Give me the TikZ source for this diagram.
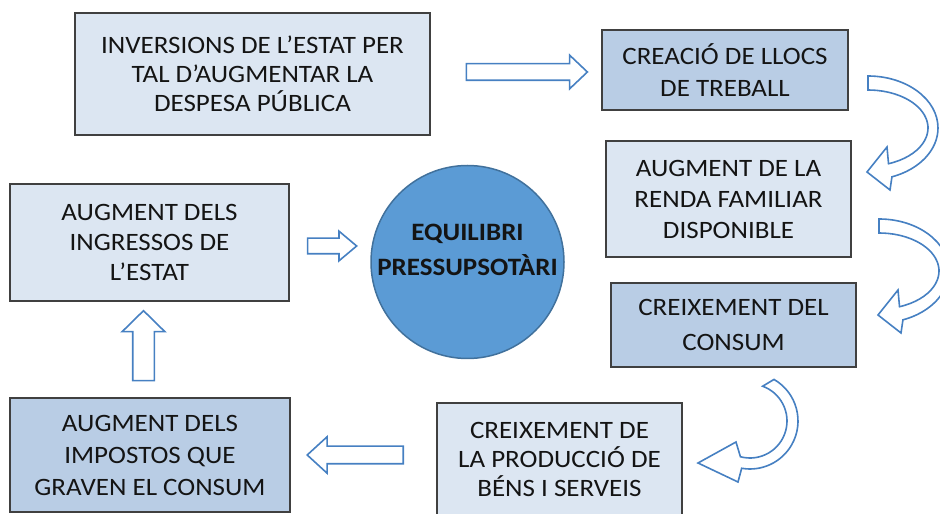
\documentclass[tikz,border=0pt]{standalone}
\usepackage{fontspec}
\setmainfont{Carlito}[FakeStretch=1.08]
\usetikzlibrary{shapes.arrows,positioning}

\definecolor{boxlight}{RGB}{220,230,242}
\definecolor{boxmid}{RGB}{185,205,229}
\definecolor{ballfill}{RGB}{91,155,213}
\definecolor{balledge}{RGB}{65,113,156}
\definecolor{arrowedge}{RGB}{70,128,194}

\newcommand{\boxfont}[1]{\fontsize{25}{#1}\selectfont}

\begin{document}
\begin{tikzpicture}[x=1pt,y=1pt,
    every node/.style={font=\boxfont{30}, align=center, text=black!92}]
       \tikzstyle{box}=[draw=black!75, line width=1.2pt, inner sep=0pt]
       \tikzstyle{lightbox}=[box, fill=boxlight]
       \tikzstyle{midbox}=[box, fill=boxmid]
       \tikzstyle{ball}=[circle, draw=balledge, line width=1.5pt, fill=ballfill, minimum size=193pt]
       \tikzstyle{blockarrow}=[draw=arrowedge, line width=1.6pt, fill=white, line join=miter]
       \tikzstyle{straight}=[blockarrow, single arrow, inner xsep=0pt]

       \useasboundingbox (0,0) rectangle (940,514);
       \clip (0,0) rectangle (940,514);

       \node[lightbox, minimum width=355, minimum height=122, font=\boxfont{29}] (inversions) at (252.5,440)
            {INVERSIONS DE L’ESTAT PER\\TAL D’AUGMENTAR LA\\DESPESA PÚBLICA};
       \node[midbox, minimum width=246, minimum height=80, font=\boxfont{32}] (llocs) at (725,444)
            {CREACIÓ DE LLOCS\\DE TREBALL};
       \node[lightbox, minimum width=245, minimum height=116, font=\boxfont{31}] (renda) at (728.5,315)
            {AUGMENT DE LA\\RENDA FAMILIAR\\DISPONIBLE};
       \node[midbox, minimum width=245, minimum height=84, font=\boxfont{35}] (consum) at (733.5,189)
            {CREIXEMENT DEL\\CONSUM};
       \node[lightbox, minimum width=245, minimum height=113, font=\boxfont{29}] (produccio) at (559.5,54.5)
            {CREIXEMENT DE\\LA PRODUCCIÓ DE\\BÉNS I SERVEIS};
       \node[midbox, minimum width=280, minimum height=114, font=\boxfont{32}] (impostos) at (150,59)
            {AUGMENT DELS\\IMPOSTOS QUE\\GRAVEN EL CONSUM};
       \node[lightbox, minimum width=279, minimum height=117, font=\boxfont{30}] (ingressos) at (149.5,271.5)
            {AUGMENT DELS\\INGRESSOS DE\\L’ESTAT};
       \node[ball, label={[font=\boxfont{35}\bfseries, align=center, yshift=12]center:EQUILIBRI\\PRESSUPSOTÀRI}]
            (equilibri) at (467.5,252) {};

       % straight block arrows
       \node[straight, minimum height=121, inner ysep=7.5, single arrow head extend=8.5,
             single arrow tip angle=87] (a_inv) at (522.5,442) {};
       \node[straight, minimum height=49, inner ysep=7, single arrow head extend=7,
             single arrow tip angle=80] (a_ing) at (327.5,268) {};
       \node[straight, minimum height=70, inner ysep=10, single arrow head extend=10.5,
             single arrow tip angle=91, rotate=90] (a_imp) at (143.5,163) {};
       \node[straight, minimum height=96, inner ysep=8, single arrow head extend=9.5,
             single arrow tip angle=85, rotate=180] (a_prod) at (360,59) {};

       % curved block arrows
       \coordinate (c_llocs) at (868,386);
       \coordinate (c_renda) at (879,243);
       \coordinate (c_consum) at (750,93);
       \draw[blockarrow, shift={(c_llocs)}] (0,52) arc[start angle=90, end angle=-70, x radius=70, y radius=52]
            -- (22,-62) -- (-1,-44) -- (19,-19) -- (20.52,-35.71)
            arc[start angle=-70, end angle=90, x radius=60, y radius=38] -- cycle;
       \draw[blockarrow, shift={(c_renda)}] (0,52) arc[start angle=90, end angle=-70, x radius=70, y radius=52]
            -- (22,-62) -- (-1,-44) -- (19,-19) -- (20.52,-35.71)
            arc[start angle=-70, end angle=90, x radius=60, y radius=38] -- cycle;
       \draw[blockarrow, shift={(c_consum)}] (24,41.57) arc[start angle=60, end angle=-100, radius=48]
            -- (-12,-61) -- (-52,-42) -- (-14,-21) -- (-9.58,-35.74)
            arc[start angle=-105, end angle=70, radius=37] -- cycle;
\end{tikzpicture}
\end{document}
